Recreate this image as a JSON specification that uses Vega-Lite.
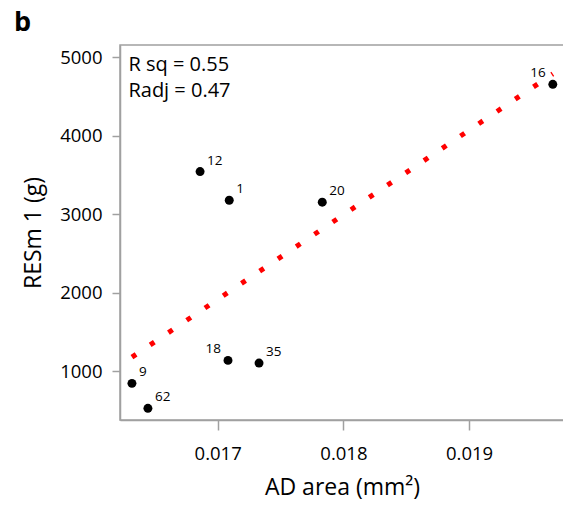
{
  "$schema": "https://vega.github.io/schema/vega-lite/v6.json",
  "autosize": {"type": "none"},
  "width": 444,
  "height": 375,
  "padding": {"left": 120, "top": 45, "right": 0, "bottom": 90},
  "background": "white",
  "config": {
    "font": "Open Sans",
    "view": {"stroke": "#a0a0a0", "strokeWidth": 1.5},
    "axis": {
      "grid": false,
      "domainColor": "#a0a0a0",
      "domainWidth": 1.5,
      "tickColor": "#a0a0a0",
      "tickWidth": 1.5,
      "labelColor": "black",
      "titleColor": "black",
      "labelFont": "Open Sans",
      "titleFont": "Open Sans",
      "labelFontSize": 18.5,
      "titleFontSize": 23,
      "titleFontWeight": "normal"
    }
  },
  "title": {
    "text": "b",
    "anchor": "start",
    "frame": "group",
    "font": "Open Sans",
    "fontSize": 27,
    "fontWeight": "bold",
    "color": "black",
    "dx": -106,
    "offset": 8
  },
  "data": {
    "values": [
      {"id": "12", "area": 0.01686, "resm": 3543},
      {"id": "1", "area": 0.017092, "resm": 3178},
      {"id": "20", "area": 0.017832, "resm": 3153},
      {"id": "16", "area": 0.019666, "resm": 4656},
      {"id": "18", "area": 0.017082, "resm": 1136},
      {"id": "35", "area": 0.017329, "resm": 1102},
      {"id": "9", "area": 0.016318, "resm": 843},
      {"id": "62", "area": 0.016445, "resm": 525}
    ]
  },
  "encoding": {
    "x": {
      "field": "area",
      "type": "quantitative",
      "scale": {"domain": [0.016223, 0.019755], "nice": false, "zero": false},
      "axis": {
        "title": "AD area (mm²)",
        "values": [0.017, 0.018, 0.019],
        "format": ".3f",
        "tickSize": 10,
        "labelPadding": 14,
        "titlePadding": 14
      }
    },
    "y": {
      "field": "resm",
      "type": "quantitative",
      "scale": {"domain": [376, 5157], "nice": false, "zero": false},
      "axis": {
        "title": "RESm 1 (g)",
        "values": [1000, 2000, 3000, 4000, 5000],
        "format": "d",
        "tickSize": 8,
        "labelPadding": 10,
        "titlePadding": 14
      }
    }
  },
  "layer": [
    {
      "transform": [{"regression": "resm", "on": "area"}],
      "mark": {"type": "line", "color": "red", "strokeWidth": 5, "strokeDash": [5, 17], "clip": true},
      "encoding": {}
    },
    {
      "mark": {"type": "circle", "color": "black", "opacity": 1, "size": 80}
    },
    {
      "transform": [{"filter": "datum.id != '16' && datum.id != '18'"}],
      "mark": {"type": "text", "align": "left", "baseline": "alphabetic", "dx": 7, "dy": -7, "fontSize": 13.5, "font": "Open Sans", "color": "black"},
      "encoding": {"text": {"field": "id"}}
    },
    {
      "transform": [{"filter": "datum.id == '16' || datum.id == '18'"}],
      "mark": {"type": "text", "align": "right", "baseline": "alphabetic", "dx": -7, "dy": -7, "fontSize": 13.5, "font": "Open Sans", "color": "black"},
      "encoding": {"text": {"field": "id"}}
    },
    {
      "transform": [{"filter": "datum.id == '12'"}],
      "mark": {"type": "text", "align": "left", "baseline": "alphabetic", "fontSize": 20, "font": "Open Sans", "color": "black", "lineHeight": 26},
      "encoding": {
        "x": {"datum": 0.016290},
        "y": {"datum": 4830},
        "text": {"value": ["R sq = 0.55", "Radj = 0.47"]}
      }
    }
  ]
}
